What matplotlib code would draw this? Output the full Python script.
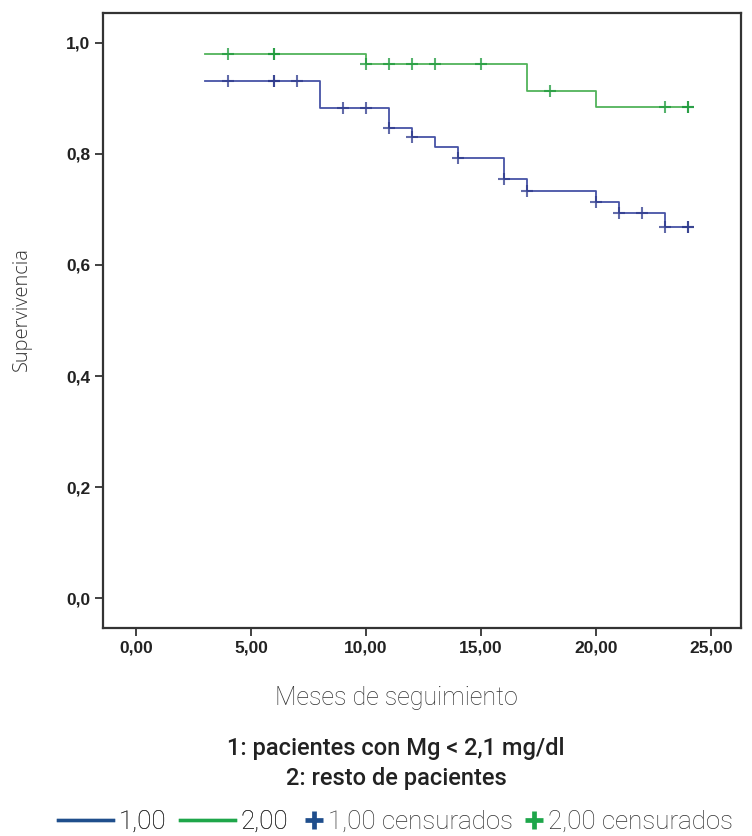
import numpy as np
import matplotlib
matplotlib.use("Agg")
import matplotlib.pyplot as plt
from matplotlib.lines import Line2D

plt.rcParams["font.family"] = ["Liberation Sans", "DejaVu Sans"]

# ---- data ----
g1_times = [3, 8, 11, 12, 13, 14, 16, 17, 20, 21, 23, 24]
g1_surv = [0.932, 0.882, 0.847, 0.830, 0.813, 0.792, 0.755, 0.733, 0.714, 0.693, 0.669, 0.669]
g1_cens = [4, 6, 6, 7, 9, 10, 11, 12, 14, 16, 17, 20, 21, 22, 23, 24, 24]

g2_times = [3, 10, 17, 20, 24]
g2_surv = [0.981, 0.962, 0.914, 0.885, 0.885]
g2_cens = [4, 6, 6, 10, 11, 12, 13, 15, 18, 23, 24, 24]

x_ticks = [0, 5, 10, 15, 20, 25]
x_ticklabels = ["0,00", "5,00", "10,00", "15,00", "20,00", "25,00"]
y_ticks = [0.0, 0.2, 0.4, 0.6, 0.8, 1.0]
y_ticklabels = ["0,0", "0,2", "0,4", "0,6", "0,8", "1,0"]

line_blue = "#4653a6"
line_green = "#52b35a"
mark_blue = "#2e3a8c"
mark_green = "#1e9a3c"
leg_blue = "#1f4e8c"
leg_green = "#1ea64a"

fig = plt.figure(figsize=(7.52, 8.36), dpi=100)
ax = fig.add_axes([103/752, 1-628/836, (741-103)/752, (628-13)/836])

def surv_at(times, surv, t):
    idx = np.searchsorted(times, t, side="right") - 1
    return np.asarray(surv)[idx]

ax.step(g2_times, g2_surv, where="post", color=line_green, lw=1.3)
ax.step(g1_times, g1_surv, where="post", color=line_blue, lw=1.3)
ax.plot(g2_cens, surv_at(g2_times, g2_surv, g2_cens), linestyle="none",
        marker="+", ms=8.5, mew=1.5, color=mark_green, alpha=0.75)
ax.plot(g1_cens, surv_at(g1_times, g1_surv, g1_cens), linestyle="none",
        marker="+", ms=8.5, mew=1.5, color=mark_blue, alpha=0.75)

ax.set_xlim(-1.43, 26.3)
ax.set_ylim(-0.054, 1.054)
ax.set_xticks(x_ticks)
ax.set_xticklabels(x_ticklabels, fontweight="bold", fontsize=12.5, color="#222222")
ax.set_yticks(y_ticks)
ax.set_yticklabels(y_ticklabels, fontweight="bold", fontsize=12.5, color="#222222")
for sp in ax.spines.values():
    sp.set_color("#333333")
    sp.set_linewidth(1.6)
ax.tick_params(axis="both", direction="out", length=6, width=1.3, color="#333333", pad=3)

fig.text(22/752, 1-309/836, "Supervivencia", rotation=90, ha="center", va="center",
         fontsize=14.5, family="Open Sans", fontweight="light", color="#333333")
fig.text(396/752, 1-698/836, "Meses de seguimiento", ha="center", va="center",
         fontsize=18, family="Roboto", fontweight="light", color="#333333")
fig.text(396/752, 1-748/836, "1: pacientes con Mg < 2,1 mg/dl", ha="center", va="center",
         fontsize=17, family="Roboto", fontweight="medium", color="#222222")
fig.text(396/752, 1-778/836, "2: resto de pacientes", ha="center", va="center",
         fontsize=17, family="Roboto", fontweight="medium", color="#222222")

leg_prop = {"family": "Roboto", "weight": "light", "size": 18.7}
line_handles = [Line2D([], [], color=leg_blue, lw=2.4),
                Line2D([], [], color=leg_green, lw=2.4)]
leg1 = fig.legend(line_handles, ["1,00", "2,00"], loc="center left",
                  bbox_to_anchor=(58/752, 1-822/836), ncol=2, frameon=False,
                  borderpad=0, borderaxespad=0, handlelength=2.1, handletextpad=0.22,
                  columnspacing=0.55, prop=leg_prop)
mark_handles = [Line2D([], [], color=leg_blue, marker="+", ms=13, mew=3.4, linestyle="none"),
                Line2D([], [], color=leg_green, marker="+", ms=13, mew=3.4, linestyle="none")]
leg2 = fig.legend(mark_handles, ["1,00 censurados", "2,00 censurados"], loc="center right",
                  bbox_to_anchor=(733/752, 1-822/836), ncol=2, frameon=False,
                  borderpad=0, borderaxespad=0, handlelength=0.7, handletextpad=0.2,
                  columnspacing=0.45, prop=leg_prop)
fig.add_artist(leg1)
for lg in (leg1, leg2):
    for t in lg.get_texts():
        t.set_color("#333333")

fig.savefig("out.png", dpi=100)
